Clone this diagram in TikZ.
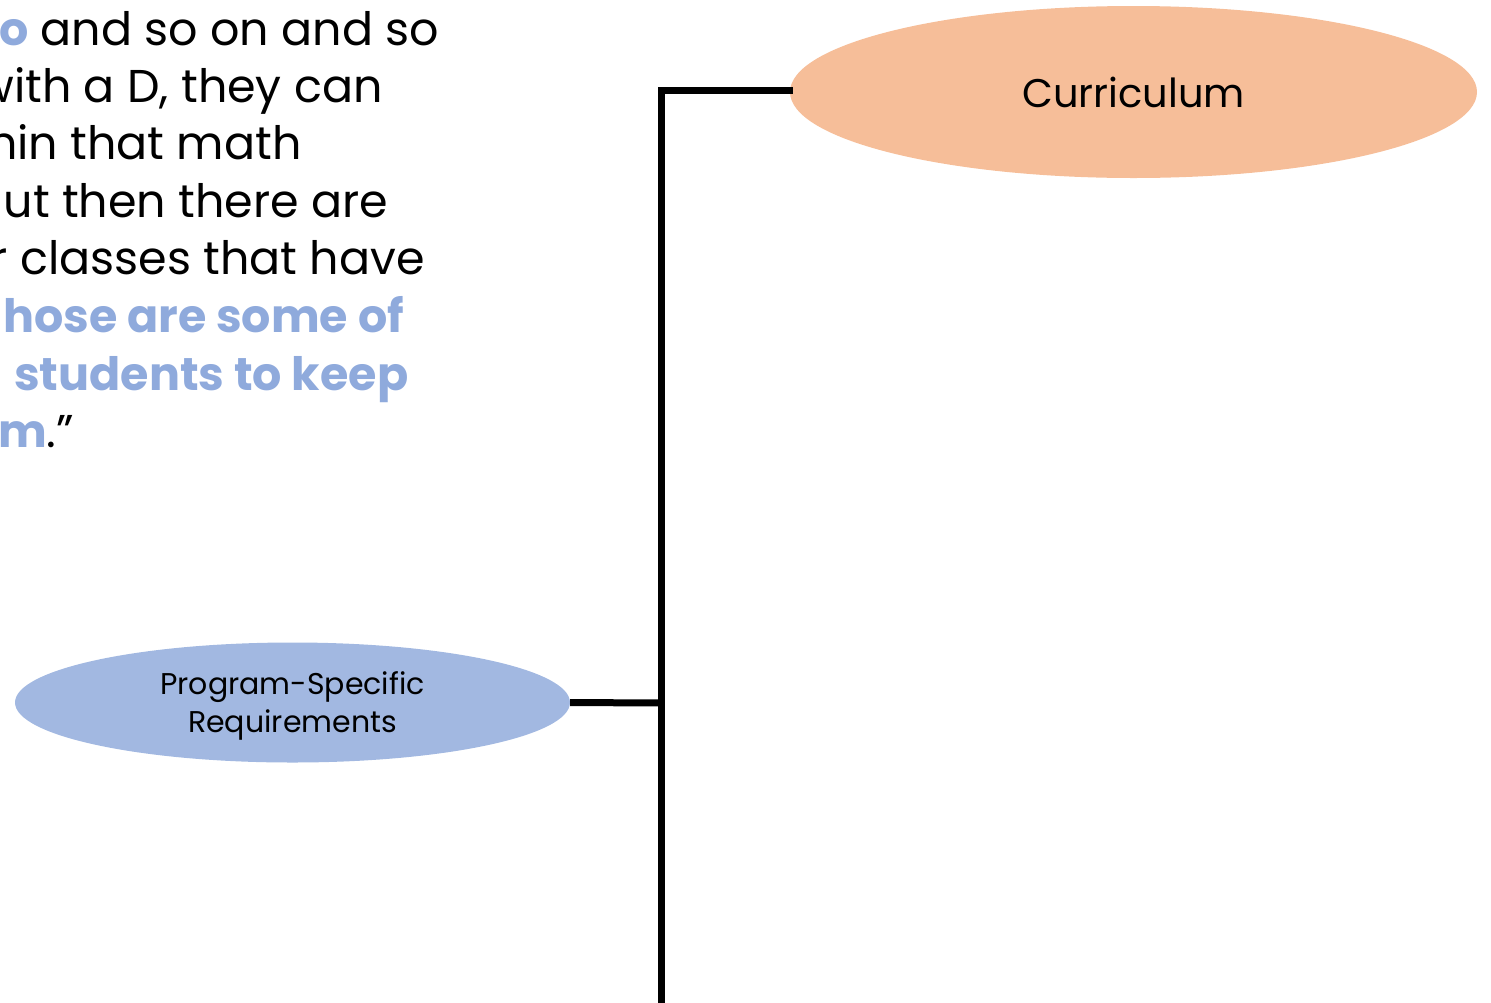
\documentclass[tikz,border=0pt]{standalone}
\usepackage{fontspec}
\setmainfont{Poppins}
\usetikzlibrary{shapes.geometric}
\definecolor{quoteblue}{RGB}{143,170,220}
\definecolor{curfill}{RGB}{246,190,153}
\definecolor{psrfill}{RGB}{162,184,225}
\begin{document}
\begin{tikzpicture}[x=1pt,y=-1pt,
  quote/.style={anchor=base west,inner sep=0pt,font=\fontsize{46}{55}\selectfont},
  oval/.style={ellipse,inner sep=0pt,draw=none},
  conn/.style={line width=7pt,line join=miter,line cap=rect}]
\useasboundingbox (0,0) rectangle (1491,1002);
\begin{scope}
\clip (0,0) rectangle (1491,1002);
\node[quote] (t1) at (-1,45) {\textcolor{quoteblue}{\bfseries\llap{s}o} and so on and so};
\node[quote] (t2) at (14,102) {\llap{w}ith a D, they can};
\node[quote] (t3) at (-12,159) {\llap{wit}hin that math};
\node[quote] (t4) at (33,217) {\llap{u}t then there are};
\node[quote] (t5) at (20,274) {\llap{other }classes that have};
\node[quote] (t6) at (3,332) {\textcolor{quoteblue}{\bfseries hose are some of}};
\node[quote] (t7) at (14,390) {\textcolor{quoteblue}{\bfseries students to keep}};
\node[quote] (t8) at (-2,447) {\textcolor{quoteblue}{\bfseries m}.”};

\node[oval,fill=curfill,minimum width=687,minimum height=172,
      font=\fontsize{40}{48}\selectfont] (cur) at (1133.5,92) {Curriculum};
\node[oval,fill=psrfill,minimum width=555,minimum height=120,align=center,
      font=\fontsize{30}{38}\selectfont] (psr) at (292.5,702.5) {\\[-8pt]Program-Specific\\Requirements};

\coordinate (top) at (661,90);
\coordinate (mid) at (661,703);
\coordinate (bot) at (661,1010);
\draw[conn] (top -| cur.west) -- (top) -- (bot);
\draw[conn,line cap=butt] (psr.east) -- (mid);
\end{scope}
\end{tikzpicture}
\end{document}
